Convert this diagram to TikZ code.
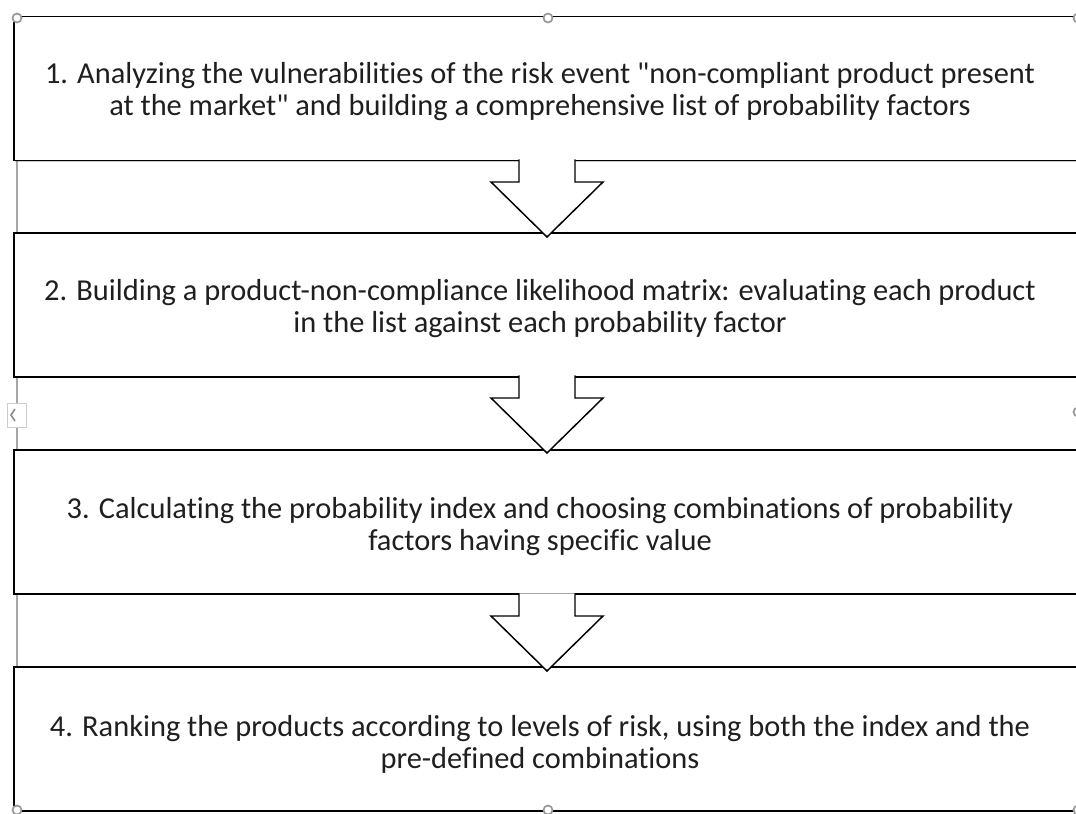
\documentclass[tikz,border=0pt]{standalone}
\usepackage{fontspec}
\setmainfont{Carlito}[Ligatures={TeXOff,CommonOff}]
\usetikzlibrary{shadows}
\tikzset{
  stepbox/.style={draw=black, line width=1.4pt, fill=white, rectangle, inner sep=0pt,
    minimum width=1066*0.75pt, minimum height=144*0.75pt,
    drop shadow={shadow xshift=0.6pt, shadow yshift=-0.9pt, opacity=0.35, fill=black!60}},
  steptext/.style={align=center, font=\fontsize{22.8pt}{24pt}\selectfont, text=black!88, inner sep=0pt},
  arrowshape/.style={draw=black, line width=1.1pt, fill=white, line join=miter},
  handle/.style={circle, draw=black!40, line width=1.3pt, fill=white, minimum size=9*0.75pt, inner sep=0pt},
  downarrow/.pic={\path[arrowshape] (-28,-1.6) -- (-28,21) -- (-56,21) -- (0,76) -- (56,21) -- (28,21) -- (28,-1.6);}
}
\begin{document}
\begin{tikzpicture}[x=0.75pt,y=-0.75pt]
\useasboundingbox (0,0) rectangle (1076,814);
% selection frame
\draw[black!35, line width=0.8pt] (17,18) -- (17,810);
% boxes
\node[stepbox] (b1) at (547,88.5) {};
\node[stepbox] (b2) at (547,305) {};
\node[stepbox] (b3) at (547,522) {};
\node[stepbox] (b4) at (547,739) {};
% texts
\node[steptext] (t1) at (540,91.5) {1. Analyzing the vulnerabilities of the risk event "non-compliant product present\\at the market" and building a comprehensive list of probability factors};
\node[steptext] (t2) at (540,309) {2. Building a product-non-compliance likelihood matrix: evaluating each product\\in the list against each probability factor};
\node[steptext] (t3) at (540,526.5) {3. Calculating the probability index and choosing combinations of probability\\factors having specific value};
\node[steptext] (t4) at (540,744) {4. Ranking the products according to levels of risk, using both the index and the\\pre-defined combinations};
% arrows
\pic at (547,161) {downarrow};
\pic at (547,377) {downarrow};
\pic at (547,595) {downarrow};
% handles
\node[handle] (h1) at (17,18) {};
\node[handle] (h2) at (548,18) {};
\node[handle] (h3) at (1078,18) {};
\node[handle] (h4) at (17,810) {};
\node[handle] (h5) at (548,810) {};
\node[handle] (h6) at (1078,810) {};
\node[handle] (h7) at (1078,412) {};
\node[rectangle, draw=black!20, fill=white, line width=0.6pt, minimum width=19*0.75pt, minimum height=24*0.75pt, inner sep=0pt] (tab) at (17,415) {};
\draw[black!45, line width=1.2pt] (15,409) -- (11,415) -- (15,421);
\end{tikzpicture}
\end{document}
